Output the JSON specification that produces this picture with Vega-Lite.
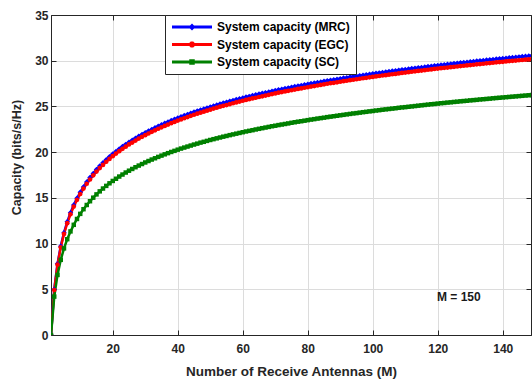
{
  "$schema": "https://vega.github.io/schema/vega-lite/v6.json",
  "width": 480,
  "height": 320,
  "autosize": {"type": "none"},
  "padding": {"left": 51, "top": 15, "right": 1, "bottom": 46},
  "background": "white",
  "datasets": {
    "cap": [
      {"M":1,"MRC":0,"EGC":0,"SC":0},
      {"M":2,"MRC":4.98,"EGC":4.92,"SC":4.20},
      {"M":3,"MRC":7.78,"EGC":7.69,"SC":6.57},
      {"M":4,"MRC":9.72,"EGC":9.60,"SC":8.22},
      {"M":5,"MRC":11.19,"EGC":11.06,"SC":9.47},
      {"M":6,"MRC":12.38,"EGC":12.23,"SC":10.48},
      {"M":7,"MRC":13.37,"EGC":13.21,"SC":11.33},
      {"M":8,"MRC":14.22,"EGC":14.05,"SC":12.05},
      {"M":9,"MRC":14.96,"EGC":14.78,"SC":12.69},
      {"M":10,"MRC":15.61,"EGC":15.42,"SC":13.25},
      {"M":11,"MRC":16.20,"EGC":16.01,"SC":13.76},
      {"M":12,"MRC":16.74,"EGC":16.54,"SC":14.22},
      {"M":13,"MRC":17.22,"EGC":17.01,"SC":14.63},
      {"M":14,"MRC":17.67,"EGC":17.46,"SC":15.02},
      {"M":15,"MRC":18.09,"EGC":17.87,"SC":15.38},
      {"M":16,"MRC":18.48,"EGC":18.26,"SC":15.71},
      {"M":17,"MRC":18.83,"EGC":18.60,"SC":16.02},
      {"M":18,"MRC":19.18,"EGC":18.95,"SC":16.31},
      {"M":19,"MRC":19.49,"EGC":19.26,"SC":16.59},
      {"M":20,"MRC":19.80,"EGC":19.56,"SC":16.85},
      {"M":21,"MRC":20.08,"EGC":19.84,"SC":17.09},
      {"M":22,"MRC":20.35,"EGC":20.11,"SC":17.33},
      {"M":23,"MRC":20.61,"EGC":20.36,"SC":17.55},
      {"M":24,"MRC":20.85,"EGC":20.60,"SC":17.77},
      {"M":25,"MRC":21.09,"EGC":20.84,"SC":17.97},
      {"M":26,"MRC":21.31,"EGC":21.05,"SC":18.16},
      {"M":27,"MRC":21.53,"EGC":21.27,"SC":18.35},
      {"M":28,"MRC":21.74,"EGC":21.48,"SC":18.53},
      {"M":29,"MRC":21.94,"EGC":21.68,"SC":18.70},
      {"M":30,"MRC":22.13,"EGC":21.86,"SC":18.87},
      {"M":31,"MRC":22.31,"EGC":22.04,"SC":19.03},
      {"M":32,"MRC":22.49,"EGC":22.22,"SC":19.19},
      {"M":33,"MRC":22.66,"EGC":22.39,"SC":19.33},
      {"M":34,"MRC":22.83,"EGC":22.56,"SC":19.48},
      {"M":35,"MRC":22.99,"EGC":22.71,"SC":19.62},
      {"M":36,"MRC":23.15,"EGC":22.87,"SC":19.76},
      {"M":37,"MRC":23.30,"EGC":23.02,"SC":19.89},
      {"M":38,"MRC":23.45,"EGC":23.17,"SC":20.02},
      {"M":39,"MRC":23.59,"EGC":23.31,"SC":20.14},
      {"M":40,"MRC":23.73,"EGC":23.45,"SC":20.27},
      {"M":41,"MRC":23.87,"EGC":23.58,"SC":20.39},
      {"M":42,"MRC":24.00,"EGC":23.71,"SC":20.50},
      {"M":43,"MRC":24.13,"EGC":23.84,"SC":20.61},
      {"M":44,"MRC":24.26,"EGC":23.97,"SC":20.72},
      {"M":45,"MRC":24.38,"EGC":24.09,"SC":20.83},
      {"M":46,"MRC":24.50,"EGC":24.21,"SC":20.93},
      {"M":47,"MRC":24.62,"EGC":24.32,"SC":21.04},
      {"M":48,"MRC":24.73,"EGC":24.43,"SC":21.13},
      {"M":49,"MRC":24.84,"EGC":24.54,"SC":21.23},
      {"M":50,"MRC":24.95,"EGC":24.65,"SC":21.33},
      {"M":51,"MRC":25.06,"EGC":24.76,"SC":21.42},
      {"M":52,"MRC":25.16,"EGC":24.86,"SC":21.51},
      {"M":53,"MRC":25.27,"EGC":24.97,"SC":21.60},
      {"M":54,"MRC":25.37,"EGC":25.07,"SC":21.69},
      {"M":55,"MRC":25.46,"EGC":25.15,"SC":21.77},
      {"M":56,"MRC":25.56,"EGC":25.25,"SC":21.86},
      {"M":57,"MRC":25.66,"EGC":25.35,"SC":21.94},
      {"M":58,"MRC":25.75,"EGC":25.44,"SC":22.02},
      {"M":59,"MRC":25.84,"EGC":25.53,"SC":22.10},
      {"M":60,"MRC":25.93,"EGC":25.62,"SC":22.18},
      {"M":61,"MRC":26.02,"EGC":25.71,"SC":22.26},
      {"M":62,"MRC":26.10,"EGC":25.79,"SC":22.33},
      {"M":63,"MRC":26.19,"EGC":25.88,"SC":22.40},
      {"M":64,"MRC":26.27,"EGC":25.95,"SC":22.48},
      {"M":65,"MRC":26.35,"EGC":26.03,"SC":22.55},
      {"M":66,"MRC":26.43,"EGC":26.11,"SC":22.62},
      {"M":67,"MRC":26.51,"EGC":26.19,"SC":22.69},
      {"M":68,"MRC":26.59,"EGC":26.27,"SC":22.76},
      {"M":69,"MRC":26.67,"EGC":26.35,"SC":22.83},
      {"M":70,"MRC":26.74,"EGC":26.42,"SC":22.89},
      {"M":71,"MRC":26.82,"EGC":26.50,"SC":22.96},
      {"M":72,"MRC":26.89,"EGC":26.57,"SC":23.02},
      {"M":73,"MRC":26.96,"EGC":26.64,"SC":23.08},
      {"M":74,"MRC":27.03,"EGC":26.71,"SC":23.14},
      {"M":75,"MRC":27.10,"EGC":26.77,"SC":23.21},
      {"M":76,"MRC":27.17,"EGC":26.84,"SC":23.27},
      {"M":77,"MRC":27.24,"EGC":26.91,"SC":23.33},
      {"M":78,"MRC":27.30,"EGC":26.97,"SC":23.38},
      {"M":79,"MRC":27.37,"EGC":27.04,"SC":23.44},
      {"M":80,"MRC":27.43,"EGC":27.10,"SC":23.50},
      {"M":81,"MRC":27.50,"EGC":27.17,"SC":23.56},
      {"M":82,"MRC":27.56,"EGC":27.23,"SC":23.61},
      {"M":83,"MRC":27.62,"EGC":27.29,"SC":23.67},
      {"M":84,"MRC":27.68,"EGC":27.35,"SC":23.72},
      {"M":85,"MRC":27.75,"EGC":27.42,"SC":23.77},
      {"M":86,"MRC":27.81,"EGC":27.48,"SC":23.83},
      {"M":87,"MRC":27.87,"EGC":27.54,"SC":23.88},
      {"M":88,"MRC":27.92,"EGC":27.58,"SC":23.93},
      {"M":89,"MRC":27.98,"EGC":27.64,"SC":23.98},
      {"M":90,"MRC":28.04,"EGC":27.70,"SC":24.03},
      {"M":91,"MRC":28.10,"EGC":27.76,"SC":24.08},
      {"M":92,"MRC":28.15,"EGC":27.81,"SC":24.13},
      {"M":93,"MRC":28.21,"EGC":27.87,"SC":24.18},
      {"M":94,"MRC":28.26,"EGC":27.92,"SC":24.23},
      {"M":95,"MRC":28.31,"EGC":27.97,"SC":24.27},
      {"M":96,"MRC":28.37,"EGC":28.03,"SC":24.32},
      {"M":97,"MRC":28.42,"EGC":28.08,"SC":24.37},
      {"M":98,"MRC":28.47,"EGC":28.13,"SC":24.41},
      {"M":99,"MRC":28.52,"EGC":28.18,"SC":24.46},
      {"M":100,"MRC":28.57,"EGC":28.23,"SC":24.50},
      {"M":101,"MRC":28.62,"EGC":28.28,"SC":24.55},
      {"M":102,"MRC":28.67,"EGC":28.33,"SC":24.59},
      {"M":103,"MRC":28.72,"EGC":28.38,"SC":24.64},
      {"M":104,"MRC":28.77,"EGC":28.42,"SC":24.68},
      {"M":105,"MRC":28.82,"EGC":28.47,"SC":24.72},
      {"M":106,"MRC":28.87,"EGC":28.52,"SC":24.76},
      {"M":107,"MRC":28.91,"EGC":28.56,"SC":24.80},
      {"M":108,"MRC":28.96,"EGC":28.61,"SC":24.85},
      {"M":109,"MRC":29.01,"EGC":28.66,"SC":24.89},
      {"M":110,"MRC":29.05,"EGC":28.70,"SC":24.92},
      {"M":111,"MRC":29.10,"EGC":28.75,"SC":24.96},
      {"M":112,"MRC":29.14,"EGC":28.79,"SC":25.00},
      {"M":113,"MRC":29.19,"EGC":28.84,"SC":25.04},
      {"M":114,"MRC":29.23,"EGC":28.88,"SC":25.08},
      {"M":115,"MRC":29.27,"EGC":28.92,"SC":25.12},
      {"M":116,"MRC":29.32,"EGC":28.97,"SC":25.16},
      {"M":117,"MRC":29.36,"EGC":29.01,"SC":25.20},
      {"M":118,"MRC":29.40,"EGC":29.05,"SC":25.24},
      {"M":119,"MRC":29.45,"EGC":29.10,"SC":25.27},
      {"M":120,"MRC":29.49,"EGC":29.14,"SC":25.31},
      {"M":121,"MRC":29.53,"EGC":29.18,"SC":25.35},
      {"M":122,"MRC":29.57,"EGC":29.22,"SC":25.38},
      {"M":123,"MRC":29.61,"EGC":29.25,"SC":25.42},
      {"M":124,"MRC":29.65,"EGC":29.29,"SC":25.45},
      {"M":125,"MRC":29.69,"EGC":29.33,"SC":25.49},
      {"M":126,"MRC":29.73,"EGC":29.37,"SC":25.52},
      {"M":127,"MRC":29.77,"EGC":29.41,"SC":25.56},
      {"M":128,"MRC":29.81,"EGC":29.45,"SC":25.59},
      {"M":129,"MRC":29.84,"EGC":29.48,"SC":25.62},
      {"M":130,"MRC":29.88,"EGC":29.52,"SC":25.66},
      {"M":131,"MRC":29.92,"EGC":29.56,"SC":25.69},
      {"M":132,"MRC":29.96,"EGC":29.60,"SC":25.72},
      {"M":133,"MRC":29.99,"EGC":29.63,"SC":25.76},
      {"M":134,"MRC":30.03,"EGC":29.67,"SC":25.79},
      {"M":135,"MRC":30.07,"EGC":29.71,"SC":25.82},
      {"M":136,"MRC":30.10,"EGC":29.74,"SC":25.85},
      {"M":137,"MRC":30.14,"EGC":29.78,"SC":25.89},
      {"M":138,"MRC":30.18,"EGC":29.82,"SC":25.92},
      {"M":139,"MRC":30.21,"EGC":29.85,"SC":25.95},
      {"M":140,"MRC":30.24,"EGC":29.88,"SC":25.98},
      {"M":141,"MRC":30.28,"EGC":29.92,"SC":26.01},
      {"M":142,"MRC":30.32,"EGC":29.96,"SC":26.04},
      {"M":143,"MRC":30.35,"EGC":29.99,"SC":26.07},
      {"M":144,"MRC":30.38,"EGC":30.02,"SC":26.10},
      {"M":145,"MRC":30.42,"EGC":30.05,"SC":26.13},
      {"M":146,"MRC":30.45,"EGC":30.08,"SC":26.16},
      {"M":147,"MRC":30.48,"EGC":30.11,"SC":26.19},
      {"M":148,"MRC":30.51,"EGC":30.14,"SC":26.22},
      {"M":149,"MRC":30.55,"EGC":30.18,"SC":26.25},
      {"M":150,"MRC":30.58,"EGC":30.21,"SC":26.28}
    ],
    "note": [{"M": 126.5, "C": 4.2, "label": "M = 150"}]
  },
  "layer": [
    {
      "data": {"name": "cap"},
      "transform": [{"fold": ["MRC", "EGC", "SC"], "as": ["key", "C"]}],
      "mark": {"type": "line", "strokeWidth": 2.5, "clip": true},
      "encoding": {
        "x": {
          "field": "M", "type": "quantitative",
          "scale": {"domain": [1, 148.7], "nice": false, "zero": false},
          "axis": {"orient": "bottom", "title": "Number of Receive Antennas (M)", "values": [20, 40, 60, 80, 100, 120, 140], "grid": true, "labelPadding": 13, "titlePadding": 10, "titleFontSize": 13.5}
        },
        "y": {
          "field": "C", "type": "quantitative",
          "scale": {"domain": [0, 35], "nice": false},
          "axis": {"orient": "left", "title": "Capacity (bits/s/Hz)", "values": [0, 5, 10, 15, 20, 25, 30, 35], "grid": true, "labelPadding": 8, "titlePadding": 11, "titleY": 142}
        },
        "color": {
          "field": "key", "type": "nominal",
          "scale": {"domain": ["MRC", "EGC", "SC"], "range": ["#0000ff", "#ff0000", "#008000"]},
          "legend": {
            "orient": "none", "legendX": 114, "legendY": 0,
            "title": null,
            "fillColor": "white", "strokeColor": "#262626",
            "padding": 6,
            "symbolSize": 100,
            "symbolStrokeWidth": 0,
            "symbolType": "M-1,-0.3L7,-0.3L7,0.3L-1,0.3Z M3,-0.7L3.7,0L3,0.7L2.3,0Z",
            "labelOffset": 34,
            "rowPadding": 5.5,
            "labelFont": "Liberation Sans", "labelFontWeight": "bold", "labelFontSize": 12, "labelColor": "#000000",
            "labelExpr": "'System capacity (' + datum.label + ')'",
            "encode": {
              "symbols": {
                "update": {
                  "fill": {"scale": "color", "field": "value"},
                  "stroke": {"value": "transparent"},
                  "shape": {"signal": "datum.value === 'MRC' ? 'M-1,-0.3L7,-0.3L7,0.3L-1,0.3Z M3,-0.7L3.7,0L3,0.7L2.3,0Z' : (datum.value === 'EGC' ? 'M-1,-0.3L7,-0.3L7,0.3L-1,0.3Z M2.4,-0.25L2.75,-0.6L3.25,-0.6L3.6,-0.25L3.6,0.25L3.25,0.6L2.75,0.6L2.4,0.25Z' : 'M-1,-0.3L7,-0.3L7,0.3L-1,0.3Z M2.45,-0.55L3.55,-0.55L3.55,0.55L2.45,0.55Z')"}
                }
              }
            }
          }
        }
      }
    },
    {
      "data": {"name": "cap"},
      "mark": {"type": "point", "filled": true, "opacity": 1, "clip": true, "strokeWidth": 0, "shape": "diamond", "size": 30, "color": "#0000ff"},
      "encoding": {
        "x": {"field": "M", "type": "quantitative", "scale": {"domain": [1, 148.7], "nice": false, "zero": false}, "axis": null},
        "y": {"field": "MRC", "type": "quantitative", "scale": {"domain": [0, 35], "nice": false}, "axis": null}
      }
    },
    {
      "data": {"name": "cap"},
      "mark": {"type": "point", "filled": true, "opacity": 1, "clip": true, "strokeWidth": 0, "shape": "circle", "size": 22, "color": "#ff0000"},
      "encoding": {
        "x": {"field": "M", "type": "quantitative", "scale": {"domain": [1, 148.7], "nice": false, "zero": false}, "axis": null},
        "y": {"field": "EGC", "type": "quantitative", "scale": {"domain": [0, 35], "nice": false}, "axis": null}
      }
    },
    {
      "data": {"name": "cap"},
      "mark": {"type": "point", "filled": true, "opacity": 1, "clip": true, "strokeWidth": 0, "shape": "square", "size": 20, "color": "#008000"},
      "encoding": {
        "x": {"field": "M", "type": "quantitative", "scale": {"domain": [1, 148.7], "nice": false, "zero": false}, "axis": null},
        "y": {"field": "SC", "type": "quantitative", "scale": {"domain": [0, 35], "nice": false}, "axis": null}
      }
    },
    {
      "data": {"name": "note"},
      "mark": {"type": "text", "font": "Liberation Sans", "fontWeight": "bold", "fontSize": 12, "color": "#1a1a1a", "align": "center", "baseline": "middle"},
      "encoding": {
        "x": {"field": "M", "type": "quantitative", "scale": {"domain": [1, 148.7], "nice": false, "zero": false}, "axis": null},
        "y": {"field": "C", "type": "quantitative", "scale": {"domain": [0, 35], "nice": false}, "axis": null},
        "text": {"field": "label"}
      }
    },
    {
      "data": {"name": "note"},
      "mark": {"type": "point", "opacity": 0},
      "encoding": {
        "x": {"field": "M", "type": "quantitative", "scale": {"domain": [1, 148.7], "nice": false, "zero": false}, "axis": {"orient": "top", "values": [20, 40, 60, 80, 100, 120, 140], "labels": false, "title": null, "grid": false}},
        "y": {"field": "C", "type": "quantitative", "scale": {"domain": [0, 35], "nice": false}, "axis": {"orient": "right", "values": [0, 5, 10, 15, 20, 25, 30, 35], "labels": false, "title": null, "grid": false}}
      }
    }
  ],
  "resolve": {"axis": {"x": "independent", "y": "independent"}},
  "config": {
    "font": "Liberation Sans",
    "view": {"stroke": "#262626", "strokeWidth": 1},
    "axis": {
      "labelFont": "Liberation Sans", "labelFontWeight": "bold", "labelFontSize": 12, "labelColor": "#262626",
      "titleFont": "Liberation Sans", "titleFontWeight": "bold", "titleFontSize": 12.5, "titleColor": "#262626",
      "domainColor": "#262626", "tickColor": "#262626", "tickSize": -5, "tickWidth": 1,
      "gridColor": "#dcdcdc", "gridWidth": 1, "labelFlush": false, "labelOverlap": false
    }
  }
}
